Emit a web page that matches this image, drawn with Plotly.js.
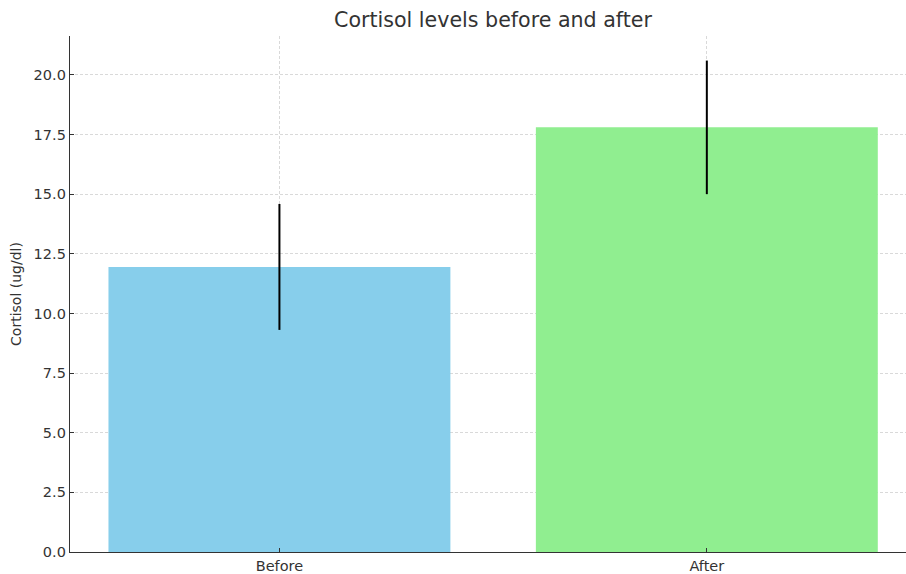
<!DOCTYPE html>
<html>
<head>
<meta charset="utf-8">
<script src="https://cdn.plot.ly/plotly-3.0.1.min.js"></script>
<style>html,body{margin:0;padding:0;background:#fff;}#chart{width:906px;height:574px;}</style>
</head>
<body>
<div id="chart"></div>
<script>
const categories = ["Before", "After"];
const cortisolMeans = [11.95, 17.8];
const cortisolErrors = [2.64, 2.8];
const barColors = ["#87CEEB", "#90EE90"];
const yTickValues = [0, 2.5, 5, 7.5, 10, 12.5, 15, 17.5, 20];
const yTickLabels = ["0.0", "2.5", "5.0", "7.5", "10.0", "12.5", "15.0", "17.5", "20.0"];

const trace = {
  type: "bar",
  x: [0, 1],
  y: cortisolMeans,
  width: 0.8,
  marker: {color: barColors, line: {width: 0}},
  error_y: {type: "data", array: cortisolErrors, visible: true, color: "#000000", thickness: 2, width: 0},
  hoverinfo: "none"
};

const font = "DejaVu Sans, sans-serif";
const layout = {
  width: 906, height: 574,
  margin: {l: 70, r: 0, t: 36, b: 22},
  paper_bgcolor: "#ffffff", plot_bgcolor: "#ffffff",
  showlegend: false,
  font: {family: font, color: "#333333", size: 14.5},
  title: {text: "Cortisol levels before and after", font: {family: font, size: 20.6, color: "#333333"},
          x: 493 / 906, xref: "container", xanchor: "center", y: 1 - 20 / 574, yref: "container", yanchor: "middle"},
  xaxis: {
    range: [-0.49, 1.466],
    tickmode: "array", tickvals: [0, 1], ticktext: categories,
    showgrid: true, gridcolor: "#cfcfcf", gridwidth: 0.8, griddash: "3px,2px",
    showline: true, linecolor: "#333333", linewidth: 1.2,
    ticks: "inside", ticklen: 4, tickcolor: "#333333",
    zeroline: false, fixedrange: true,
    tickfont: {family: font, size: 14.5, color: "#333333"}
  },
  yaxis: {
    range: [0, 21.63],
    tickmode: "array", tickvals: yTickValues, ticktext: yTickLabels,
    showgrid: true, gridcolor: "#cfcfcf", gridwidth: 0.8, griddash: "3px,2px",
    showline: true, linecolor: "#333333", linewidth: 1.2,
    ticks: "inside", ticklen: 4, tickcolor: "#333333",
    zeroline: false, fixedrange: true,
    tickfont: {family: font, size: 14.5, color: "#333333"},
    title: {text: "Cortisol (ug/dl)", font: {family: font, size: 14, color: "#333333"}, standoff: 8}
  }
};

Plotly.newPlot("chart", [trace], layout, {displayModeBar: false, staticPlot: true});
</script>
</body>
</html>
